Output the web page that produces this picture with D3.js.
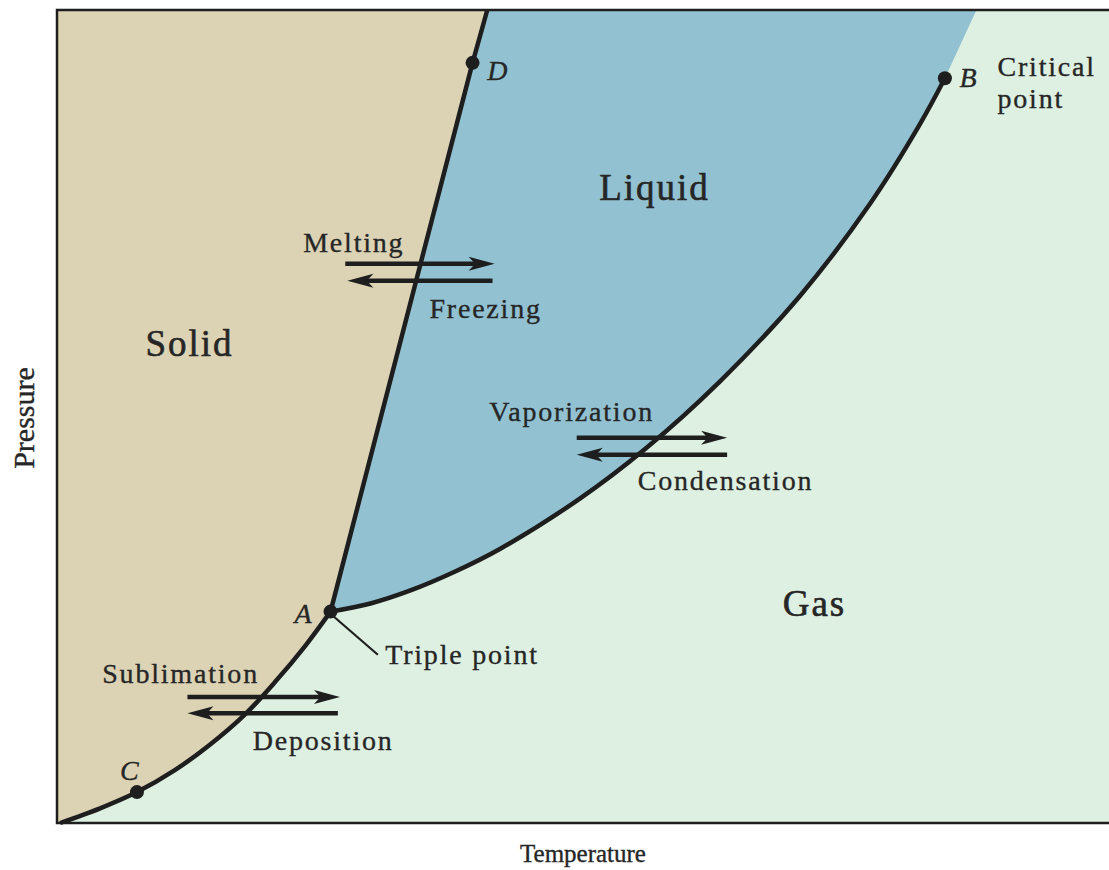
<!DOCTYPE html>
<html lang="en">
  <head>
    <title>Phase diagram</title>
    <style>
      html,
      body {
        margin: 0;
        background: #fff;
      }

      svg {
        display: block;
      }

      text {
        font-family: 'Liberation Serif', 'Times New Roman', serif;
        fill: #262626;
        stroke: #262626;
        stroke-width: 0.35px;
      }
    </style>
    <script src="https://d3js.org/d3.v7.min.js"></script>
  </head>
  <body>
    <svg width="1109" height="870"></svg>

    <script>
      // temperature / pressure in arbitrary units (0-100 across the frame)
      var sublimation = [[0.3, 0], [4.1, 1.8], [7.6, 3.8], [11.2, 6.5], [14.5, 9.6], [17.9, 13.4],
        [20.7, 17.3], [23.6, 21.8], [26.0, 26.0]];
      var melting = [[26.0, 26.0], [39.5, 93.5], [40.9, 100]];
      var vaporization = [[26.0, 26.0], [29.8, 27.0], [33.6, 28.6], [37.8, 30.9], [42.1, 33.7], [49.7, 39.9],
        [55.9, 46.0], [63.0, 54.3], [70.6, 64.8], [77.3, 76.2], [82.0, 85.9], [84.4, 91.6]];
      var supercritical = [[84.4, 91.6], [87.4, 100]];

      var points = [
        { name: 'A', T: 26.0, P: 26.0, lx: 24.2, ly: 24.6, anchor: 'end' },
        { name: 'B', T: 84.4, P: 91.6, lx: 85.8, ly: 90.5, anchor: 'start' },
        { name: 'C', T: 7.6, P: 3.8, lx: 6.0, ly: 5.3, anchor: 'start' },
        { name: 'D', T: 39.5, P: 93.5, lx: 40.9, ly: 91.4, anchor: 'start' }
      ];

      var regions = [
        { text: 'Liquid', T: 56.8, P: 76.6 },
        { text: 'Solid', T: 12.6, P: 57.5 },
        { text: 'Gas', T: 72.0, P: 25.5 }
      ];

      var labels = [
        { text: 'Melting', T: 23.4, P: 70.2 },
        { text: 'Freezing', T: 35.4, P: 62.1 },
        { text: 'Vaporization', T: 41.1, P: 49.5 },
        { text: 'Condensation', T: 55.2, P: 40.9 },
        { text: 'Sublimation', T: 4.3, P: 17.2 },
        { text: 'Deposition', T: 18.6, P: 9.0 },
        { text: 'Triple point', T: 31.2, P: 19.6 },
        { text: 'Critical', T: 89.4, P: 91.9 },
        { text: 'point', T: 89.4, P: 88.0 }
      ];

      // [from T, to T, P]
      var arrows = [
        [27.4, 41.6, 68.8], [41.4, 27.6, 66.7],
        [49.4, 63.7, 47.4], [63.7, 49.4, 45.3],
        [12.4, 26.9, 15.5], [26.7, 12.4, 13.5]
      ];

      var triple = [[26.3, 25.4], [30.5, 20.7]];

      var svg = d3.select('svg'),
        width = +svg.attr('width'),
        height = +svg.attr('height');

      var x = d3.scaleLinear().domain([0, 100]).range([57, width]);
      var y = d3.scaleLinear().domain([0, 100]).range([823, 10]);

      var curve = d3.line()
        .x(function(d) { return x(d[0]); })
        .y(function(d) { return y(d[1]); })
        .curve(d3.curveCatmullRom.alpha(0.5));
      var straight = d3.line()
        .x(function(d) { return x(d[0]); })
        .y(function(d) { return y(d[1]); });

      // gas background
      svg.append('rect')
        .attr('x', x(0)).attr('y', y(100))
        .attr('width', x(100) - x(0)).attr('height', y(0) - y(100))
        .attr('fill', '#def0e1');

      // solid
      var meltTop = melting[melting.length - 1];
      svg.append('path')
        .attr('fill', '#dcd3b5')
        .attr('d', 'M' + x(0) + ',' + y(100) + 'L' + x(0) + ',' + y(0) +
          curve(sublimation).replace('M', 'L') +
          straight(melting).replace('M', 'L') + 'Z');

      // liquid
      var scTop = supercritical[supercritical.length - 1];
      svg.append('path')
        .attr('fill', '#92c2d2')
        .attr('d', curve(vaporization) + 'L' + x(scTop[0]) + ',' + y(scTop[1]) +
          'L' + x(meltTop[0]) + ',' + y(meltTop[1]) +
          'L' + x(melting[1][0]) + ',' + y(melting[1][1]) + 'Z');

      // phase boundaries
      var lines = svg.append('g')
        .attr('fill', 'none')
        .attr('stroke', '#1e1e1e')
        .attr('stroke-width', 4.5)
        .attr('stroke-linejoin', 'round');
      lines.append('path').attr('d', curve(sublimation));
      lines.append('path').attr('d', curve(vaporization));
      lines.append('path').attr('d', straight(melting));

      // triple point leader
      svg.append('path')
        .attr('d', straight(triple))
        .attr('stroke', '#1e1e1e')
        .attr('stroke-width', 2.2);

      // frame
      svg.append('path')
        .attr('fill', 'none')
        .attr('stroke', '#1e1e1e')
        .attr('stroke-width', 2.5)
        .attr('d', 'M' + width + ',' + y(100) + 'H' + x(0) + 'V' + y(0) + 'H' + width);

      // points
      svg.append('g').selectAll('circle')
        .data(points)
        .enter().append('circle')
        .attr('cx', function(d) { return x(d.T); })
        .attr('cy', function(d) { return y(d.P); })
        .attr('r', 7)
        .attr('fill', '#1e1e1e');

      svg.append('g').selectAll('text')
        .data(points)
        .enter().append('text')
        .attr('x', function(d) { return x(d.lx); })
        .attr('y', function(d) { return y(d.ly); })
        .attr('text-anchor', function(d) { return d.anchor; })
        .attr('font-style', 'italic')
        .attr('font-size', 28)
        .text(function(d) { return d.name; });

      // arrows
      var head = 26, half = 7;
      var ag = svg.append('g');
      arrows.forEach(function(a) {
        var x0 = x(a[0]), x1 = x(a[1]), yy = y(a[2]), s = x1 > x0 ? 1 : -1;
        ag.append('line')
          .attr('x1', x0).attr('x2', x1 - s * head * 0.6)
          .attr('y1', yy).attr('y2', yy)
          .attr('stroke', '#1e1e1e')
          .attr('stroke-width', 4.5);
        ag.append('path')
          .attr('fill', '#1e1e1e')
          .attr('d', 'M' + x1 + ',' + yy +
            'L' + (x1 - s * head) + ',' + (yy - half) +
            'L' + (x1 - s * head * 0.75) + ',' + yy +
            'L' + (x1 - s * head) + ',' + (yy + half) + 'Z');
      });

      // texts
      svg.append('g').selectAll('text')
        .data(regions)
        .enter().append('text')
        .attr('x', function(d) { return x(d.T); })
        .attr('y', function(d) { return y(d.P); })
        .attr('text-anchor', 'middle')
        .attr('font-size', 37)
        .attr('letter-spacing', 2)
        .style('stroke-width', '0.6px')
        .text(function(d) { return d.text; });

      svg.append('g').selectAll('text')
        .data(labels)
        .enter().append('text')
        .attr('x', function(d) { return x(d.T); })
        .attr('y', function(d) { return y(d.P); })
        .attr('font-size', 28)
        .attr('letter-spacing', 1.8)
        .text(function(d) { return d.text; });

      svg.append('text')
        .attr('x', 583).attr('y', 862)
        .attr('text-anchor', 'middle')
        .attr('font-size', 25)
        .text('Temperature');

      svg.append('text')
        .attr('transform', 'translate(34,418) rotate(-90)')
        .attr('text-anchor', 'middle')
        .attr('font-size', 30)
        .text('Pressure');
    </script>
  </body>
</html>
